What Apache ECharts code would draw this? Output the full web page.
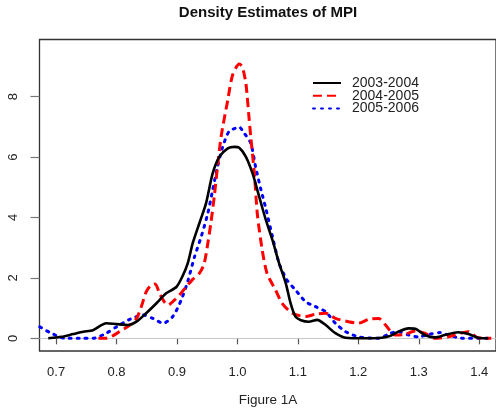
<!DOCTYPE html>
<html>
<head>
<meta charset="utf-8">
<script src="https://cdn.jsdelivr.net/npm/echarts@6/dist/echarts.min.js"></script>
<style>
  html, body { margin: 0; padding: 0; background: #fff; }
  #chart { width: 496px; height: 413px; }
</style>
</head>
<body>
<div id="chart"></div>
<script>
// Kernel density estimates of MPI for three periods
const seriesNames = ['2003-2004', '2004-2005', '2005-2006'];

const x0304 = [0.687,0.709,0.728,0.745,0.761,0.783,0.800,0.819,0.833,0.849,0.866,0.882,0.899,0.909,0.918,0.926,0.937,0.948,0.959,0.970,0.984,0.995,1.003,1.014,1.025,1.036,1.047,1.058,1.069,1.080,1.088,1.096,1.105,1.118,1.132,1.146,1.162,1.179,1.210,1.239,1.253,1.266,1.283,1.294,1.310,1.327,1.343,1.365,1.382,1.398,1.415];
const y0304 = [0,0.05,0.14,0.22,0.27,0.50,0.47,0.44,0.55,0.83,1.16,1.49,1.70,2.05,2.50,3.15,3.81,4.47,5.46,6.01,6.29,6.34,6.31,6.01,5.46,4.69,3.92,3.25,2.48,1.82,1.16,0.72,0.60,0.55,0.61,0.44,0.17,0.02,0,0.02,0.08,0.22,0.33,0.32,0.11,0.03,0.11,0.20,0.14,0.02,0];

const x0405 = [0.770,0.783,0.805,0.822,0.833,0.841,0.849,0.857,0.864,0.871,0.879,0.885,0.896,0.904,0.915,0.926,0.937,0.945,0.951,0.956,0.962,0.967,0.973,0.984,0.992,1.003,1.008,1.014,1.019,1.022,1.028,1.033,1.041,1.049,1.063,1.074,1.091,1.113,1.129,1.146,1.162,1.184,1.200,1.217,1.234,1.245,1.261,1.277,1.294,1.310,1.327,1.349,1.382,1.398,1.420];
const y0405 = [0,0,0.22,0.44,0.66,1.05,1.54,1.76,1.80,1.49,1.21,1.10,1.27,1.43,1.70,1.95,2.15,2.48,3.15,3.81,4.75,5.68,6.68,7.89,8.72,9.08,8.99,8.44,7.34,6.68,5.46,4.10,2.92,2.15,1.60,1.16,0.83,0.72,0.80,0.83,0.66,0.55,0.50,0.63,0.66,0.44,0.11,0.13,0.24,0.17,0,0.05,0.22,0.02,0];

const x0506 = [0.673,0.689,0.715,0.745,0.761,0.783,0.800,0.822,0.844,0.860,0.877,0.893,0.907,0.918,0.929,0.940,0.951,0.959,0.967,0.975,0.986,0.997,1.003,1.011,1.022,1.030,1.039,1.047,1.058,1.069,1.082,1.096,1.113,1.129,1.146,1.162,1.179,1.200,1.234,1.253,1.266,1.283,1.299,1.319,1.335,1.349,1.371,1.398,1.420];
const y0506 = [0.38,0.20,0,0,0,0.17,0.38,0.63,0.77,0.66,0.50,0.72,1.27,1.90,2.70,3.36,4.14,4.91,5.68,6.30,6.85,6.96,6.99,6.80,6.46,5.68,4.91,4.30,3.36,2.48,1.93,1.60,1.21,1.05,0.88,0.50,0.22,0.05,0,0.17,0.22,0.11,0.05,0.14,0.19,0.11,0,0,0];

const xTicks = [0.7, 0.8, 0.9, 1.0, 1.1, 1.2, 1.3, 1.4];
const yTicks = [0, 2, 4, 6, 8];

const pairs = (xs, ys) => xs.map((x, i) => [x, ys[i]]);

const FONT = '"Liberation Sans", Arial, sans-serif';

const chart = echarts.init(document.getElementById('chart'), null, { renderer: 'canvas' });

chart.setOption({
  animation: false,
  backgroundColor: '#ffffff',
  grid: {
    left: 39.5, right: -2, top: 39.5, bottom: 62,
    show: true, borderColor: '#333', borderWidth: 1.3, backgroundColor: 'transparent'
  },
  xAxis: {
    type: 'value', min: 0.6725, max: 1.4278,
    axisLine: { show: false },
    splitLine: { show: false },
    axisTick: { show: true, length: 6, lineStyle: { color: '#555', width: 1.2 }, customValues: xTicks },
    axisLabel: {
      customValues: xTicks, margin: 15, color: '#222', fontSize: 13, fontFamily: FONT,
      formatter: v => v.toFixed(1)
    }
  },
  yAxis: {
    type: 'value', min: -0.42, max: 9.894,
    axisLine: { show: false },
    splitLine: { show: false },
    axisTick: { show: true, length: 9, lineStyle: { color: '#777', width: 1.2 }, customValues: yTicks },
    axisLabel: {
      customValues: yTicks, rotate: 90, margin: 20, color: '#222', fontSize: 13, fontFamily: FONT,
      formatter: v => String(v)
    }
  },
  legend: {
    orient: 'vertical', left: 312, top: 76, padding: 0,
    itemWidth: 28, itemHeight: 12, itemGap: -1.3,
    data: seriesNames,
    itemStyle: { opacity: 0 },
    textStyle: { color: '#222', fontSize: 14, fontFamily: FONT, lineHeight: 12, padding: [0, 0, 0, 6] }
  },
  graphic: [
    { type: 'text', x: 268, y: 13, style: { text: 'Density Estimates of MPI', font: 'bold 15px ' + FONT, fill: '#111', textAlign: 'center', textVerticalAlign: 'middle' } },
    { type: 'text', x: 268, y: 400, style: { text: 'Figure 1A', font: '13.5px ' + FONT, fill: '#222', textAlign: 'center', textVerticalAlign: 'middle' } }
  ],
  series: [
    {
      name: seriesNames[0], type: 'line', data: pairs(x0304, y0304),
      smooth: 0.25, symbol: 'none', z: 4,
      lineStyle: { color: '#000', width: 2.6 }, itemStyle: { color: '#000' },
      markLine: {
        silent: true, symbol: 'none', label: { show: false },
        lineStyle: { color: '#c8c8c8', width: 1, type: 'solid' },
        data: [{ yAxis: 0 }], z: 1
      }
    },
    {
      name: seriesNames[1], type: 'line', data: pairs(x0405, y0405),
      smooth: 0.25, symbol: 'none', z: 3,
      lineStyle: { color: '#ff0000', width: 3, type: [9, 5] }, itemStyle: { color: '#ff0000' }
    },
    {
      name: seriesNames[2], type: 'line', data: pairs(x0506, y0506),
      smooth: 0.25, symbol: 'none', z: 2,
      lineStyle: { color: '#0000ff', width: 3, type: [2, 6], cap: 'round' }, itemStyle: { color: '#0000ff' }
    }
  ]
});
</script>
</body>
</html>
